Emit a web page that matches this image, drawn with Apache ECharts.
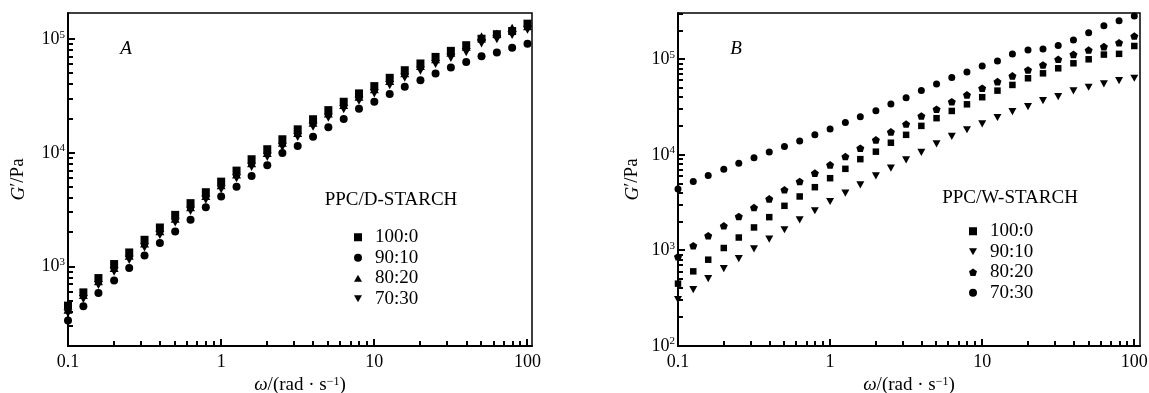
<!DOCTYPE html>
<html>
<head>
<meta charset="utf-8">
<script src="https://cdn.jsdelivr.net/npm/echarts@6/dist/echarts.min.js"></script>
<style>
  html, body { margin: 0; padding: 0; background: #fff; }
  #chart { width: 1149px; height: 393px; }
</style>
</head>
<body>
<div id="chart"></div>
<script>
// angular frequency, rad/s (10 points per decade)
const omega = [0.1, 0.126, 0.158, 0.2, 0.251, 0.316, 0.398, 0.501, 0.631, 0.794,
  1, 1.26, 1.58, 2, 2.51, 3.16, 3.98, 5.01, 6.31, 7.94,
  10, 12.6, 15.8, 20, 25.1, 31.6, 39.8, 50.1, 63.1, 79.4, 100];

// panel A: PPC/D-STARCH, G' in Pa
const dStarch100 = [455, 595, 795, 1056, 1335, 1725, 2213, 2858, 3622, 4519, 5598, 6998, 8810, 10790, 13200, 16140, 19800, 23800, 28200, 33400, 38700, 45800, 53400, 61200, 69900, 79000, 88600, 101000, 110700, 118000, 137000];
const dStarch90 = [336, 449, 588, 758, 973, 1257, 1615, 2043, 2583, 3340, 4140, 5060, 6280, 7800, 9980, 11500, 13900, 16800, 19900, 24500, 28200, 33000, 38200, 43600, 50000, 56500, 63100, 70800, 76500, 84000, 91000];
const dStarch80 = [420, 565, 745, 975, 1250, 1600, 2050, 2640, 3330, 4180, 5200, 6480, 8150, 10000, 12300, 15000, 18500, 22300, 26400, 31300, 36300, 43000, 50300, 58200, 66800, 76000, 85800, 106000, 112000, 126000, 130000];
const dStarch70 = [390, 520, 690, 905, 1150, 1480, 1900, 2450, 3100, 3880, 4800, 6000, 7550, 9250, 11300, 13800, 17000, 20400, 24300, 28800, 33400, 39500, 46000, 53000, 60500, 68500, 77000, 92000, 100000, 109000, 121000];

// panel B: PPC/W-STARCH
const wStarch100 = [449, 604, 800, 1060, 1365, 1740, 2230, 2930, 3670, 4590, 5700, 7140, 9020, 10800, 13400, 16200, 20100, 24200, 28800, 33800, 40100, 47000, 53900, 63300, 71300, 80500, 90800, 100000, 112000, 114000, 137800];
const wStarch90 = [306, 388, 506, 644, 819, 1040, 1315, 1645, 2090, 2600, 3250, 3980, 4860, 6030, 7260, 8870, 10600, 13000, 15600, 18300, 21100, 24600, 28400, 32000, 37000, 40700, 46700, 51000, 55200, 59800, 63300];
const wStarch80 = [860, 1120, 1425, 1810, 2265, 2810, 3465, 4310, 5260, 6440, 7860, 9600, 11740, 14350, 17400, 21000, 25500, 30000, 36000, 42400, 49800, 58400, 67000, 77300, 87200, 100000, 112700, 125000, 135500, 149000, 175000];
const wStarch70 = [4390, 5260, 6080, 7090, 8180, 9300, 10740, 12200, 14000, 16200, 18700, 21800, 25100, 29000, 34100, 39700, 47000, 55200, 64300, 73700, 85100, 96000, 113500, 125000, 128000, 139000, 159000, 190000, 224000, 253000, 283000];

// tick labels
const xTicks = [0.1, 1, 10, 100];
const yTicksA = [1000, 10000, 100000];
const yTicksB = [100, 1000, 10000, 100000];

const FONT = 'Liberation Serif';
const pentagon = 'path://M0,-1L0.951,-0.309L0.588,0.809L-0.588,0.809L-0.951,-0.309Z';
const downTri = 'path://M-1,-0.9L1,-0.9L0,0.9Z';
const upTri = 'path://M0,-0.9L1,0.9L-1,0.9Z';

// minor ticks 2..9 x 10^k inside [lo, hi]
function minors(lo, hi) {
  const out = [];
  for (let k = -2; k <= 6; k++) {
    for (let d = 2; d <= 9; d++) {
      const v = +(d * Math.pow(10, k)).toPrecision(3);
      if (v > lo && v < hi) out.push(v);
    }
  }
  return out;
}

const pts = (ys) => omega.map((x, i) => [x, ys[i]]);

const expLabel = (v) => '{b|10}{s|' + Math.round(Math.log10(v)) + '}';
const numLabel = (v) => String(+(+v).toPrecision(3));

function xAxis(grid, max) {
  return {
    type: 'log', gridIndex: grid, min: 0.1, max: max, position: 'bottom',
    name: '{i|ω}{n|/(rad · s}{s|−1}{n|)}', nameLocation: 'middle', nameGap: 26,
    nameTextStyle: {
      rich: {
        i: {fontFamily: FONT, fontStyle: 'italic', fontSize: 19, color: '#000'},
        n: {fontFamily: FONT, fontSize: 19, color: '#000'},
        s: {fontFamily: FONT, fontSize: 12, color: '#000', verticalAlign: 'top'}
      }
    },
    axisLine: {show: true, lineStyle: {color: '#000', width: 2}},
    axisTick: {show: false},
    axisLabel: {customValues: xTicks, formatter: numLabel, fontFamily: FONT, fontSize: 18, color: '#000', margin: 7},
    splitLine: {show: false}
  };
}

function yAxis(grid, min, max, ticks, gap) {
  return {
    type: 'log', gridIndex: grid, min: min, max: max, position: 'left',
    name: '{i|G}{n|′/Pa}', nameLocation: 'middle', nameGap: gap, nameRotate: 90,
    nameTextStyle: {
      rich: {
        i: {fontFamily: FONT, fontStyle: 'italic', fontSize: 19, color: '#000'},
        n: {fontFamily: FONT, fontSize: 19, color: '#000'}
      }
    },
    axisLine: {show: true, lineStyle: {color: '#000', width: 2}},
    axisTick: {show: false},
    axisLabel: {
      customValues: ticks, formatter: expLabel, margin: 3,
      rich: {
        b: {fontFamily: FONT, fontSize: 18, color: '#000', lineHeight: 20},
        s: {fontFamily: FONT, fontSize: 11, color: '#000', verticalAlign: 'top', lineHeight: 11}
      }
    },
    splitLine: {show: false}
  };
}

function scatter(name, xi, data, symbol, size) {
  return {
    name: name, type: 'scatter', xAxisIndex: xi, yAxisIndex: xi,
    data: pts(data), symbol: symbol, symbolSize: size,
    symbolKeepAspect: true,
    itemStyle: {color: '#000', opacity: 1},
    emphasis: {disabled: true}
  };
}

const legendText = {fontFamily: FONT, fontSize: 19, color: '#000', lineHeight: 20.5, padding: [0, 0, 0, 8]};

const chart = echarts.init(document.getElementById('chart'), null, {renderer: 'canvas'});
chart.setOption({
  backgroundColor: '#fff',
  animation: false,
  grid: [
    {left: 68, top: 13, width: 464, height: 333, show: true, borderColor: '#000', borderWidth: 1.5,
     backgroundColor: 'transparent', containLabel: false, outerBoundsMode: 'none'},
    {left: 678, top: 13, width: 462, height: 333, show: true, borderColor: '#000', borderWidth: 1.5,
     backgroundColor: 'transparent', containLabel: false, outerBoundsMode: 'none'}
  ],
  xAxis: [xAxis(0, 107), xAxis(1, 109)],
  yAxis: [yAxis(0, 201, 170000, yTicksA, 40), yAxis(1, 100, 305000, yTicksB, 36)],
  legend: [
    {
      data: ['A·100:0', 'A·90:10', 'A·80:20', 'A·70:30'],
      orient: 'vertical', left: 354, top: 227, itemWidth: 8, itemHeight: 8, itemGap: 0,
      padding: 0, selectedMode: false, formatter: (n) => n.slice(2), textStyle: legendText
    },
    {
      data: ['B·100:0', 'B·90:10', 'B·80:20', 'B·70:30'],
      orient: 'vertical', left: 969, top: 221, itemWidth: 8, itemHeight: 8, itemGap: 0,
      padding: 0, selectedMode: false, formatter: (n) => n.slice(2), textStyle: legendText
    }
  ],
  series: [
    scatter('A·100:0', 0, dStarch100, 'rect', 8),
    scatter('A·90:10', 0, dStarch90, 'circle', 8),
    scatter('A·80:20', 0, dStarch80, upTri, 9),
    scatter('A·70:30', 0, dStarch70, downTri, 9),
    scatter('B·100:0', 1, wStarch100, 'rect', 6.5),
    scatter('B·90:10', 1, wStarch90, downTri, 8),
    scatter('B·80:20', 1, wStarch80, pentagon, 8),
    scatter('B·70:30', 1, wStarch70, 'circle', 7)
  ]
});

// inward ticks as small filled bars, positioned through each panel's log axes
function tickBars(idx, xMin, xMax, yMin, yMax, yMajor) {
  const finder = {xAxisIndex: idx, yAxisIndex: idx};
  const out = [];
  const bar = (x, y, w, h) => out.push({
    type: 'rect', silent: true, z: 60,
    shape: {x: x, y: y, width: w, height: h},
    style: {fill: '#000'}
  });
  const px = (v) => chart.convertToPixel(finder, v);
  xTicks.forEach(v => { const p = px([v, yMin]); bar(Math.round(p[0]) - 1, Math.round(p[1]) - 7, 2, 7); });
  minors(xMin, xMax).forEach(v => { const p = px([v, yMin]); bar(Math.round(p[0]) - 1, Math.round(p[1]) - 5, 2, 5); });
  yMajor.forEach(v => { const p = px([xMin, v]); bar(Math.round(p[0]), Math.round(p[1]) - 1, 7, 2); });
  minors(yMin, yMax).forEach(v => { const p = px([xMin, v]); bar(Math.round(p[0]), Math.round(p[1]) - 1, 5, 2); });
  return out;
}

const label = (x, y, text, italic) => ({
  type: 'text', x: x, y: y, z: 60,
  style: {text: text, fontFamily: FONT, fontStyle: italic ? 'italic' : 'normal', fontSize: 19, fill: '#000', align: 'center', verticalAlign: 'middle'}
});

chart.setOption({
  graphic: [
    label(126, 49, 'A', true),
    label(736, 49, 'B', true),
    label(391, 200, 'PPC/D-STARCH'),
    label(1010, 198, 'PPC/W-STARCH'),
    ...tickBars(0, 0.1, 107, 201, 170000, yTicksA),
    ...tickBars(1, 0.1, 109, 100, 305000, yTicksB)
  ]
});
</script>
</body>
</html>
